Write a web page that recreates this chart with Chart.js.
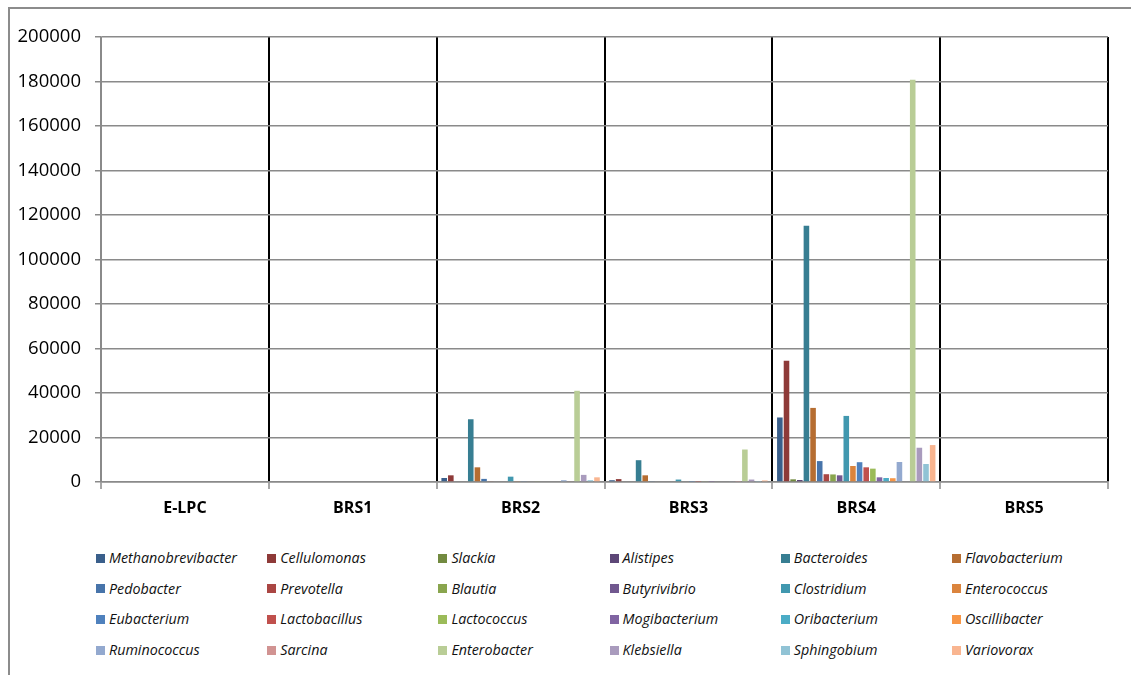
<!DOCTYPE html>
<html>
<head>
<meta charset="utf-8">
<script src="https://cdn.jsdelivr.net/npm/chart.js@4/dist/chart.umd.min.js"></script>
<style>
    body { margin: 0; width: 1131px; height: 675px; overflow: hidden; position: relative; background: #fff; font-family: "Open Sans", sans-serif; }
    #frame { position: absolute; left: 8px; top: 7px; width: 1140px; height: 680px; border-left: 2px solid #8c8c8c; border-top: 2px solid #8c8c8c; }
    #chartBox { position: absolute; left: 0; top: 0; }
    #legend { position: absolute; left: 0; top: 0; }
    .legend-item { position: absolute; display: flex; align-items: center; font-style: italic; font-size: 14.3px; color: #111; white-space: nowrap; line-height: 18px; }
    .legend-box { width: 9px; height: 9px; margin-right: 4px; flex: none; }
</style>
</head>
<body>
<div id="frame"></div>
<div id="chartBox"><canvas id="genusChart" width="1131" height="530"></canvas></div>
<div id="legend"></div>
<script>
// サンプル
const categories = ['E-LPC', 'BRS1', 'BRS2', 'BRS3', 'BRS4', 'BRS5'];

// 属名（凡例の並び順）
const genera = [
    'Methanobrevibacter', 'Cellulomonas', 'Slackia', 'Alistipes', 'Bacteroides', 'Flavobacterium',
    'Pedobacter', 'Prevotella', 'Blautia', 'Butyrivibrio', 'Clostridium', 'Enterococcus',
    'Eubacterium', 'Lactobacillus', 'Lactococcus', 'Mogibacterium', 'Oribacterium', 'Oscillibacter',
    'Ruminococcus', 'Sarcina', 'Enterobacter', 'Klebsiella', 'Sphingobium', 'Variovorax'
];

const generaColors = [
    '#3a5f8b', '#8e3a38', '#728a40', '#5d4777', '#377e92', '#b66d31',
    '#4774aa', '#aa4643', '#89a54e', '#71588f', '#4198af', '#db843d',
    '#4f81bd', '#c0504d', '#9bbb59', '#8064a2', '#4bacc6', '#f79646',
    '#93a9cf', '#d19392', '#b9cd96', '#a99bbd', '#91c3d5', '#f9b590'
];

// サンプルごとのリード数（generaと同じ順）
const eLpc = [0, 0, 0, 0, 0, 0, 0, 0, 0, 0, 0, 0, 0, 0, 0, 0, 0, 0, 0, 0, 0, 0, 0, 0];
const brs1 = [0, 0, 0, 0, 0, 0, 0, 0, 0, 0, 0, 0, 0, 0, 0, 0, 0, 0, 0, 0, 0, 0, 0, 0];
const brs2 = [1800, 3000, 0, 0, 28200, 6600, 1400, 300, 0, 0, 2400, 400, 400, 0, 300, 0, 0, 0, 800, 300, 41000, 3200, 800, 2100];
const brs3 = [800, 1300, 0, 0, 9800, 3000, 400, 0, 0, 0, 1100, 0, 200, 200, 300, 200, 0, 0, 300, 200, 14600, 1100, 200, 700];
const brs4 = [29000, 54500, 1200, 900, 115200, 33300, 9400, 3500, 3400, 3000, 29700, 7200, 8900, 6600, 6000, 2100, 1800, 1700, 9000, 0, 180800, 15400, 8100, 16600];
const brs5 = [0, 0, 0, 0, 0, 0, 0, 0, 0, 0, 0, 0, 0, 0, 0, 0, 0, 0, 0, 0, 0, 0, 0, 0];

const yTicks = [0, 20000, 40000, 60000, 80000, 100000, 120000, 140000, 160000, 180000, 200000];

const sampleValues = [eLpc, brs1, brs2, brs3, brs4, brs5];

const GRID_GRAY = '#8a8a8a';

function buildDatasets() {
    return genera.map((name, i) => ({
        label: name,
        data: sampleValues.map(s => s[i]),
        backgroundColor: generaColors[i],
        borderWidth: 0,
        categoryPercentage: 0.95,
        barPercentage: 0.84
    }));
}

// 6列の凡例をHTMLで並べる
function buildLegend(datasets) {
    const legendEl = document.getElementById('legend');
    datasets.forEach((ds, i) => {
        const col = i % 6;
        const row = Math.floor(i / 6);
        const item = document.createElement('div');
        item.className = 'legend-item';
        item.style.left = (96 + col * 171.2) + 'px';
        item.style.top = (549 + row * 30.7) + 'px';
        item.innerHTML = `<span class="legend-box" style="background:${ds.backgroundColor}"></span>${ds.label}`;
        legendEl.appendChild(item);
    });
}

function drawChart() {
    const datasets = buildDatasets();
    const ctx = document.getElementById('genusChart').getContext('2d');

    new Chart(ctx, {
        type: 'bar',
        data: { labels: categories, datasets: datasets },
        options: {
            responsive: false,
            animation: false,
            layout: { padding: { top: 37, right: 23, left: 0, bottom: 0 } },
            plugins: {
                legend: { display: false },
                tooltip: { enabled: false }
            },
            scales: {
                x: {
                    grid: {
                        offset: true,
                        color: c => c.index === 0 ? GRID_GRAY : '#000',
                        lineWidth: 2,
                        tickLength: 7,
                        tickColor: GRID_GRAY,
                        tickWidth: 1.5
                    },
                    border: { display: true, color: GRID_GRAY, width: 1.5 },
                    ticks: {
                        color: '#000',
                        font: { family: '"Open Sans", sans-serif', size: 16, weight: 'bold' },
                        padding: 10
                    },
                    afterFit: scale => { scale.height = 48; }
                },
                y: {
                    min: 0,
                    max: 200000,
                    afterBuildTicks: scale => { scale.ticks = yTicks.map(v => ({ value: v })); },
                    grid: {
                        color: GRID_GRAY,
                        lineWidth: 1.5,
                        tickLength: 6,
                        tickColor: GRID_GRAY
                    },
                    border: { display: true, color: GRID_GRAY, width: 1.5 },
                    ticks: {
                        color: '#000',
                        font: { family: '"Open Sans", sans-serif', size: 18.5 },
                        padding: 14,
                        callback: v => String(v)
                    },
                    afterFit: scale => { scale.width = 101; }
                }
            }
        }
    });

    buildLegend(datasets);
}

drawChart();
</script>
</body>
</html>
